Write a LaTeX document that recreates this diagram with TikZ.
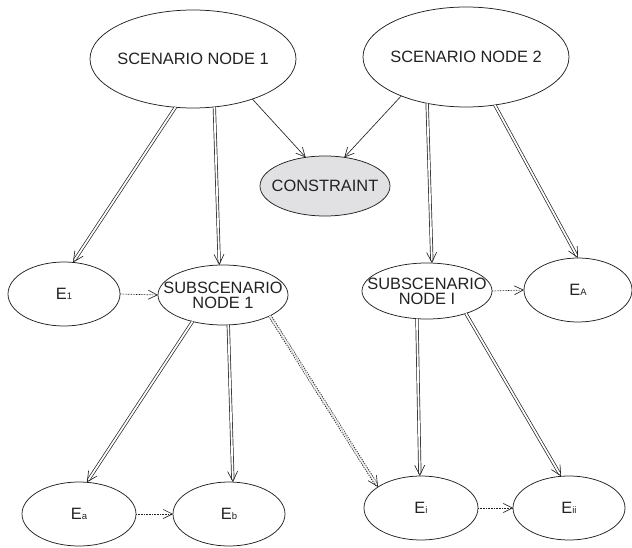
\documentclass[tikz,border=0pt]{standalone}
\usepackage{fontspec}
\setmainfont{Liberation Sans}
\usetikzlibrary{shapes.geometric,arrows.meta,decorations.markings}
\definecolor{lc}{HTML}{222222}
\definecolor{cf}{HTML}{E1E1E3}
\newcommand{\sbs}[1]{{\fontsize{9.5}{9.5}\selectfont #1}}
\begin{document}
\begin{tikzpicture}[x=1pt,y=-1pt,
  ell/.style={ellipse,draw=lc,line width=0.75pt,inner sep=0pt,outer sep=0pt},
  txt/.style={font=\fontsize{16.4}{15}\selectfont,text=lc,align=center,inner sep=0pt},
  dbl/.style={draw=lc,line width=0.7pt,double=white,double distance=1.8pt,shorten >=2.5pt,
    postaction={decorate,decoration={markings,mark=at position 1 with {\arrow[lc,line width=0.65pt,solid]{Straight Barb[length=10pt,width=10pt]}}}}},
  dbldot/.style={dbl,line width=0.8pt,dash pattern=on 1.2pt off 1.2pt},
  sgl/.style={draw=lc,line width=0.65pt,-{Straight Barb[length=9pt,width=9pt]}},
  dot/.style={sgl,dash pattern=on 0.8pt off 0.8pt}
]
\useasboundingbox (0,0) rectangle (632,548);
% nodes
\node[ell,minimum width=206pt,minimum height=98pt,label={[txt]center:SCENARIO NODE 1}] (sn1) at (193,59) {};
\node[ell,minimum width=206pt,minimum height=100pt,label={[txt]center:SCENARIO NODE 2}] (sn2) at (466,57) {};
\node[ell,fill=cf,minimum width=130pt,minimum height=60pt,label={[txt]center:CONSTRAINT}] (c) at (325,186) {};
\node[ell,minimum width=112pt,minimum height=64pt,label={[txt]center:E\sbs{1}}] (e1) at (64,294) {};
\node[ell,minimum width=130pt,minimum height=60pt,label={[txt]center:SUBSCENARIO\\NODE 1}] (ss1) at (223,295) {};
\node[ell,minimum width=130pt,minimum height=56pt,label={[txt]center:SUBSCENARIO\\NODE I}] (ssi) at (427,291) {};
\node[ell,minimum width=108pt,minimum height=64pt,label={[txt]center:E\sbs{A}}] (ea) at (578,290) {};
\node[ell,minimum width=114pt,minimum height=64pt,label={[txt]center:E\sbs{a}}] (eal) at (79,514) {};
\node[ell,minimum width=112pt,minimum height=64pt,label={[txt]center:E\sbs{b}}] (eb) at (229,514) {};
\node[ell,minimum width=114pt,minimum height=64pt,label={[txt]center:E\sbs{i}}] (ei) at (421,508) {};
\node[ell,minimum width=112pt,minimum height=64pt,label={[txt]center:E\sbs{ii}}] (eii) at (569,508) {};
% connectors
\draw[sgl] (sn1.-34) -- (c.124);
\draw[sgl] (sn2.-149) -- (c.56);
\draw[dbl] (sn1.-110) -- (e1.74);
\draw[dbl] (sn1.-66) -- (ss1.97);
\draw[dbl] (sn2.-130) -- (ssi.80);
\draw[dbl] (sn2.-59) -- (ea.90);
\draw[dbl] (ss1.-139) -- (eal.76);
\draw[dbl] (ss1.-80) -- (eb.83);
\draw[dbldot] (ss1.-24) -- (ei.154);
\draw[dbl] (ssi.-110) -- (ei.92);
\draw[dbl] (ssi.-30) -- (eii.104);
\draw[dot] (e1.east) -- (ss1.west);
\draw[dot] (ssi.east) -- (ea.west);
\draw[dot] (eal.east) -- (eb.west);
\draw[dot] (ei.east) -- (eii.west);
\end{tikzpicture}
\end{document}
